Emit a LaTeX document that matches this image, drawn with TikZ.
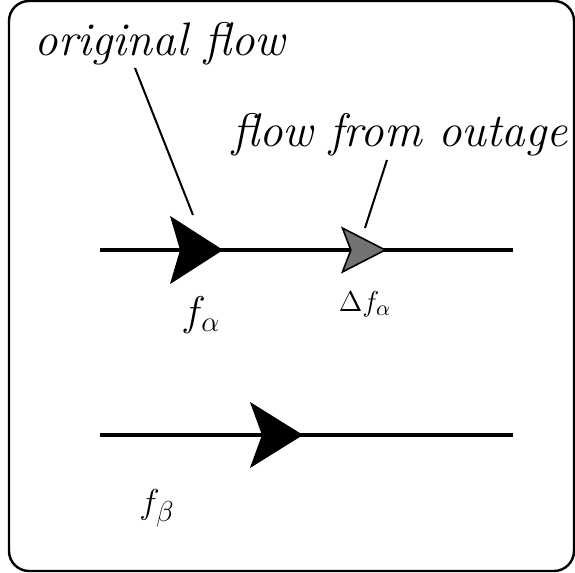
\documentclass[tikz,border=0pt]{standalone}
\usepackage{amsmath}
\usetikzlibrary{arrows.meta,decorations.markings}

\begin{document}
\begin{tikzpicture}[x=0.5pt,y=-0.5pt,
  flow/.style={line width=2pt},
  note/.style={font=\fontsize{23.5}{28}\selectfont\itshape,inner sep=0pt,anchor=base},
  leader/.style={line width=1pt},
  sym/.style={inner sep=0pt}]
  \useasboundingbox (0,0) rectangle (575,573);
  \draw[line width=1.2pt,rounded corners=10pt] (9,1) rectangle (574,571);
  % the two lines
  \coordinate (a0) at (100,250); \coordinate (a1) at (513,250);
  \coordinate (b0) at (100,435); \coordinate (b1) at (513,435);
  \draw[flow,postaction=decorate,decoration={markings,
    mark=at position 0.298 with {\arrow{Stealth[length=26.5pt,width=34pt,inset=5pt,line width=0.5pt]}},
    mark=at position 0.695 with {\arrow{Stealth[length=23pt,width=23.5pt,inset=4.5pt,fill=black!55,line width=0.8pt]}}}]
    (a0) -- (a1);
  \draw[flow,postaction=decorate,decoration={markings,
    mark=at position 0.4915 with {\arrow{Stealth[length=26.5pt,width=33pt,inset=6pt,line width=0.5pt]}}}]
    (b0) -- (b1);
  % labels
  \node[sym,font=\fontsize{21}{25}\selectfont] (fa) at (201,315) {$f_{\alpha}$};
  \node[sym,font=\fontsize{15}{18}\selectfont] (dfa) at (365,304) {$\Delta f_{\alpha}$};
  \node[sym,font=\fontsize{19}{23}\selectfont] (fb) at (157,508) {$f_{\beta}$};
  \node[note] (orig) at (160,55) {original flow};
  \node[note] (outage) at (400,147) {flow from outage};
  \coordinate (origtail) at (135,68); \coordinate (origtip) at (193,215);
  \coordinate (outtail) at (387,160); \coordinate (outtip) at (365,228);
  \draw[leader] (origtail) -- (origtip);
  \draw[leader] (outtail) -- (outtip);
\end{tikzpicture}
\end{document}
